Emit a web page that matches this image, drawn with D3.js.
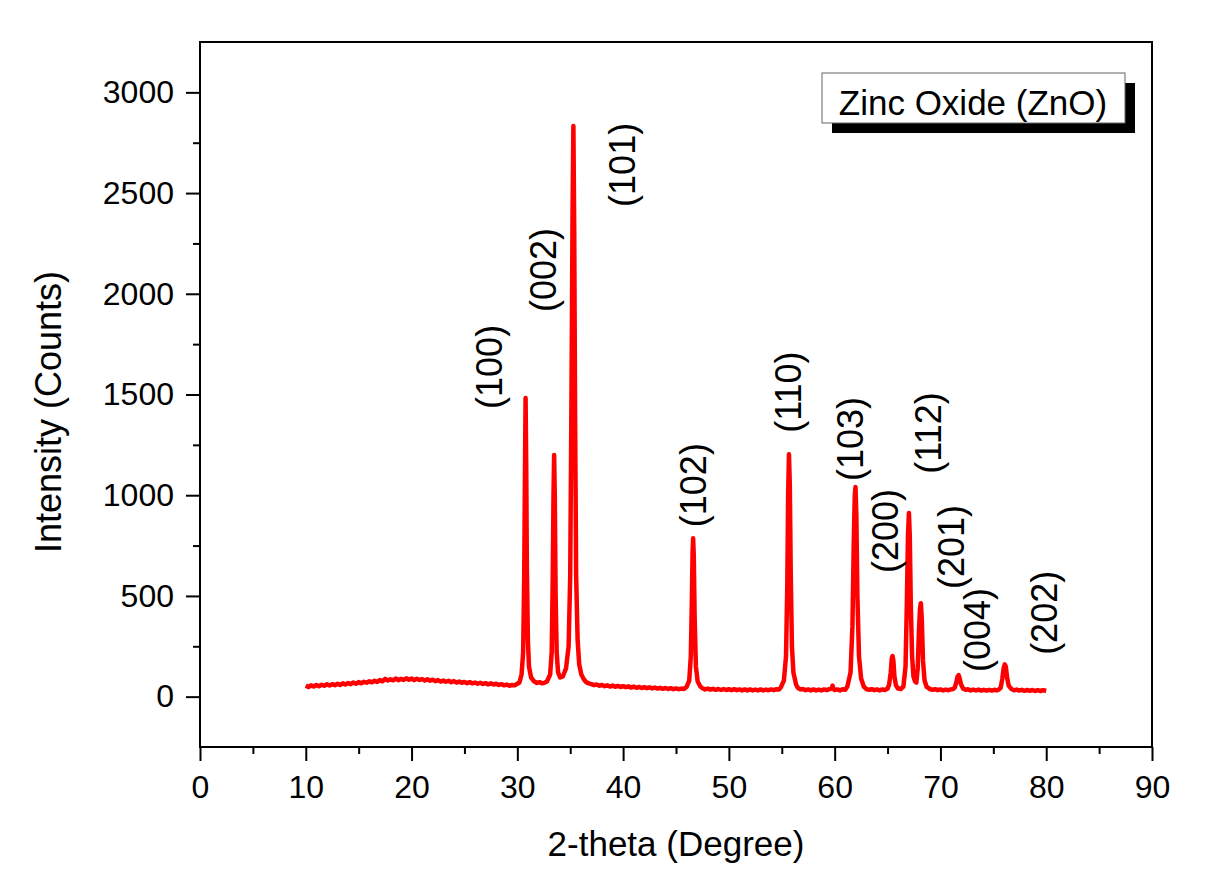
<!DOCTYPE html>
<html>
<head>
<meta charset="utf-8">
<script src="https://cdn.jsdelivr.net/npm/d3@7/dist/d3.min.js"></script>
<style>
  html, body { margin: 0; padding: 0; background: #ffffff; }
  svg { display: block; }
  text { font-family: "Liberation Sans", Arial, sans-serif; fill: #000; }
</style>
</head>
<body>
<svg id="chart" width="1210" height="891"></svg>
<script>
// XRD scan of ZnO powder: [2-theta (deg), counts]
const scan = [
  [10.0,55],[10.25,48],[10.5,56],[10.75,50],[11.0,58],[11.25,52],[11.5,59],[11.75,54],
  [12.0,61],[12.25,55],[12.5,62],[12.75,57],[13.0,64],[13.25,58],[13.5,66],[13.75,60],
  [14.0,68],[14.25,62],[14.5,70],[14.75,64],[15.0,72],[15.25,66],[15.5,74],[15.75,69],
  [16.0,76],[16.25,71],[16.5,79],[16.75,73],[17.0,82],[17.25,76],[17.5,88],[17.75,80],
  [18.0,86],[18.25,81],[18.5,90],[18.75,82],[19.0,88],[19.25,83],[19.5,91],[19.75,84],
  [20.0,90],[20.25,82],[20.5,89],[20.75,83],[21.0,87],[21.25,80],[21.5,86],[21.75,79],
  [22.0,84],[22.25,77],[22.5,82],[22.75,75],[23.0,80],[23.25,74],[23.5,79],[23.75,72],
  [24.0,77],[24.25,70],[24.5,75],[24.75,69],[25.0,73],[25.25,67],[25.5,72],[25.75,66],
  [26.0,70],[26.25,64],[26.5,69],[26.75,63],[27.0,67],[27.25,61],[27.5,66],[27.75,60],
  [28.0,64],[28.25,58],[28.5,62],[28.75,56],[29.0,60],[29.25,54],[29.5,58],[29.75,56],
  [30.0,64],
  // (100)
  [30.2,70],[30.4,110],[30.55,220],[30.65,600],[30.72,1100],[30.78,1483],[30.84,1150],
  [30.9,650],[31.0,280],[31.1,150],[31.3,95],[31.6,75],[31.85,68],[32.1,72],[32.35,66],
  [32.6,70],[32.8,75],
  // (002)
  [33.1,110],[33.25,220],[33.35,600],[33.42,1000],[33.48,1200],[33.54,1000],[33.62,500],
  [33.72,220],[33.85,120],[34.05,95],
  // (101)
  [34.3,100],[34.6,140],[34.85,250],[35.0,600],[35.12,1500],[35.22,2400],[35.3,2833],
  [35.38,2300],[35.46,1400],[35.56,600],[35.7,280],[35.85,160],[36.05,110],[36.3,85],
  [36.5,72],[36.75,66],[37.0,62],[37.25,57],[37.5,60],[37.75,54],[38.0,58],[38.25,52],
  [38.5,56],[38.75,50],[39.0,55],[39.25,49],[39.5,53],[39.75,48],[40.0,52],[40.25,47],
  [40.5,51],[40.75,45],[41.0,50],[41.25,44],[41.5,48],[41.75,43],[42.0,47],[42.25,42],
  [42.5,46],[42.75,41],[43.0,45],[43.25,40],[43.5,44],[43.75,39],[44.0,43],[44.25,38],
  [44.5,42],[44.75,37],[45.0,41],[45.25,37],[45.5,40],[45.75,38],
  // (102)
  [46.0,48],[46.25,80],[46.4,200],[46.5,480],[46.57,720],[46.62,786],[46.68,700],
  [46.76,400],[46.88,150],[47.05,75],[47.3,50],
  [47.5,42],[47.75,36],[48.0,40],[48.25,35],[48.5,39],[48.75,34],[49.0,38],[49.25,33],
  [49.5,38],[49.75,33],[50.0,37],[50.25,32],[50.5,37],[50.75,32],[51.0,36],[51.25,31],
  [51.5,36],[51.75,31],[52.0,36],[52.25,31],[52.5,35],[52.75,31],[53.0,36],[53.25,31],
  [53.5,35],[53.75,32],[54.0,36],[54.25,32],[54.5,37],[54.75,36],
  // (110)
  [54.9,45],[55.2,80],[55.4,200],[55.52,550],[55.6,1000],[55.68,1203],[55.76,1050],
  [55.85,600],[55.96,250],[56.1,120],[56.35,60],
  [56.5,45],[56.75,36],[57.0,38],[57.25,32],[57.5,36],[57.75,31],[58.0,36],[58.25,31],
  [58.5,35],[58.75,31],[59.0,36],[59.25,32],[59.5,37],[59.7,40],[59.8,55],[59.9,38],
  [60.0,33],[60.25,36],[60.5,31],[60.75,37],[61.0,34],
  // (103)
  [61.2,50],[61.5,120],[61.68,350],[61.8,750],[61.9,1000],[61.97,1041],[62.05,900],
  [62.15,500],[62.3,200],[62.5,90],[62.75,50],
  [63.0,38],[63.25,34],[63.5,37],[63.75,32],[64.0,36],[64.25,31],[64.5,36],[64.75,33],
  [65.0,40],
  // (200)
  [65.15,60],[65.3,120],[65.4,190],[65.47,202],[65.55,180],[65.65,100],[65.8,55],
  [66.0,40],[66.25,38],
  // (112) and (201)
  [66.5,50],[66.7,150],[66.82,450],[66.93,800],[67.02,912],[67.1,800],[67.2,450],
  [67.32,200],[67.45,100],[67.6,75],[67.72,70],[67.85,140],[67.97,330],[68.07,440],
  [68.15,464],[68.24,380],[68.35,180],[68.5,80],[68.7,48],
  [69.0,38],[69.25,34],[69.5,37],[69.75,32],[70.0,36],[70.25,31],[70.5,35],[70.75,32],
  [71.0,36],[71.2,38],
  // (004)
  [71.35,45],[71.5,70],[71.62,100],[71.72,107],[71.82,90],[71.95,60],[72.15,40],
  [72.4,34],[72.6,37],[72.85,31],[73.1,35],[73.35,31],[73.6,35],[73.85,30],[74.1,34],
  [74.35,30],[74.6,34],[74.85,30],[75.1,34],[75.35,31],[75.55,37],
  // (202)
  [75.7,45],[75.85,90],[75.97,140],[76.08,160],[76.18,150],[76.3,95],[76.45,55],[76.7,38],
  [76.95,32],[77.2,35],[77.45,30],[77.7,34],[77.95,29],[78.2,33],[78.45,29],[78.7,33],
  [78.95,28],[79.2,32],[79.45,28],[79.7,32],[80.0,29]
];

// Miller-index annotations and where they sit (deg, counts)
const hklLabels = ["(100)", "(002)", "(101)", "(102)", "(110)", "(103)", "(200)", "(112)", "(201)", "(004)", "(202)"];
const hklTheta  = [27.4, 32.5, 39.9, 46.6, 55.6, 61.5, 64.8, 68.9, 71.0, 73.5, 79.8];
const hklCounts = [1637, 2118, 2640, 1050, 1512, 1279, 822, 1309, 743, 331, 416];

// Axis ticks
const xMajorTicks = [0, 10, 20, 30, 40, 50, 60, 70, 80, 90];
const xMinorTicks = [5, 15, 25, 35, 45, 55, 65, 75, 85];
const yMajorTicks = [0, 500, 1000, 1500, 2000, 2500, 3000];
const yMinorTicks = [250, 750, 1250, 1750, 2250, 2750];

const xDomain = [0, 90];
const yDomain = [-250, 3250];

const legendText = "Zinc Oxide (ZnO)";
const xTitle = "2-theta (Degree)";
const yTitle = "Intensity (Counts)";

const svg = d3.select("#chart");
const plot = { left: 200, right: 1152, top: 42, bottom: 747 };

const x = d3.scaleLinear().domain(xDomain).range([plot.left, plot.right]);
const y = d3.scaleLinear().domain(yDomain).range([plot.bottom, plot.top]);

svg.append("rect").attr("width", 1210).attr("height", 891).attr("fill", "#ffffff");

// Diffraction trace
const line = d3.line().x(d => x(d[0])).y(d => y(d[1]));
svg.append("path")
  .datum(scan)
  .attr("d", line)
  .attr("fill", "none")
  .attr("stroke", "#ff0000")
  .attr("stroke-width", 4.5)
  .attr("stroke-linejoin", "round");

// Bottom axis with labelled major ticks and minor ticks
svg.append("g").attr("transform", `translate(0,${plot.bottom})`)
  .call(d3.axisBottom(x).tickValues(xMajorTicks).tickSize(14).tickPadding(14).tickFormat(d3.format("d")));
svg.append("g").attr("transform", `translate(0,${plot.bottom})`)
  .call(d3.axisBottom(x).tickValues(xMinorTicks).tickSize(7).tickFormat(""));

// Left axis
svg.append("g").attr("transform", `translate(${plot.left},0)`)
  .call(d3.axisLeft(y).tickValues(yMajorTicks).tickSize(14).tickPadding(12).tickFormat(d3.format("d")));
svg.append("g").attr("transform", `translate(${plot.left},0)`)
  .call(d3.axisLeft(y).tickValues(yMinorTicks).tickSize(7).tickFormat(""));

svg.selectAll(".domain").remove();
svg.selectAll(".tick line").attr("stroke", "#000").attr("stroke-width", 2);
svg.selectAll(".tick text")
  .attr("font-size", 32)
  .attr("font-family", "'Liberation Sans', Arial, sans-serif")
  .attr("fill", "#000");

// Frame around the plotting area
svg.append("rect")
  .attr("x", plot.left).attr("y", plot.top)
  .attr("width", plot.right - plot.left).attr("height", plot.bottom - plot.top)
  .attr("fill", "none").attr("stroke", "#000").attr("stroke-width", 2);

// Axis titles
svg.append("text")
  .attr("x", (plot.left + plot.right) / 2).attr("y", 856)
  .attr("text-anchor", "middle").attr("font-size", 35)
  .text(xTitle);
svg.append("text")
  .attr("transform", `translate(61,412) rotate(-90)`)
  .attr("text-anchor", "middle").attr("font-size", 36)
  .text(yTitle);

// Peak (hkl) annotations, rotated
svg.append("g").selectAll("text")
  .data(hklLabels)
  .join("text")
  .attr("transform", (d, i) => `translate(${x(hklTheta[i])},${y(hklCounts[i])}) rotate(-90)`)
  .attr("text-anchor", "middle")
  .attr("dy", "0.35em")
  .attr("font-size", 36)
  .text(d => d);

// Legend box with drop shadow
const lg = svg.append("g").attr("transform", "translate(822,73)");
lg.append("rect").attr("x", 10).attr("y", 10).attr("width", 303).attr("height", 50).attr("fill", "#000");
lg.append("rect").attr("x", 0).attr("y", 0).attr("width", 303).attr("height", 50)
  .attr("fill", "#fff").attr("stroke", "#666").attr("stroke-width", 1);
lg.append("text").attr("x", 151).attr("y", 42).attr("text-anchor", "middle")
  .attr("font-size", 35).text(legendText);
</script>
</body>
</html>
